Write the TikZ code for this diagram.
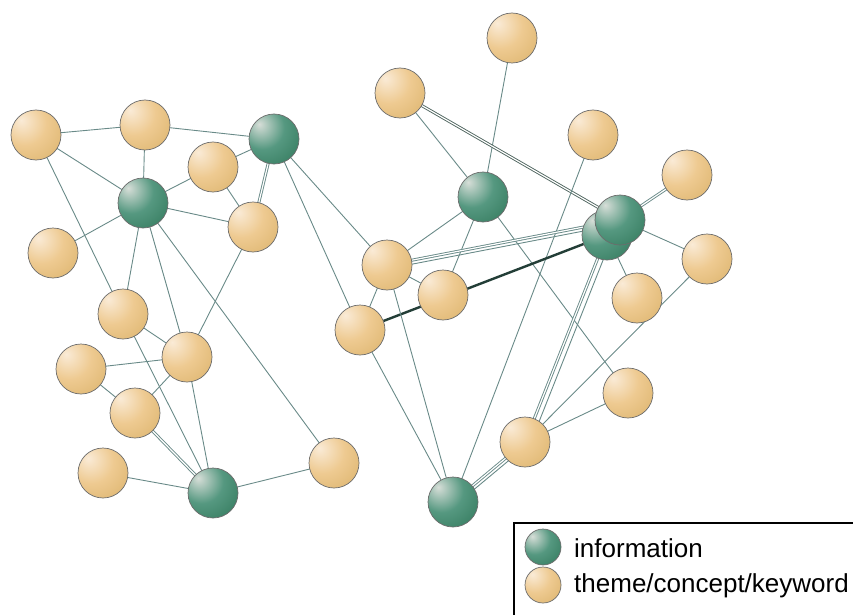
\documentclass[tikz,border=0pt]{standalone}
\usepackage{fontspec}
\setmainfont{Liberation Sans}
\usepackage{tikz}
\usetikzlibrary{backgrounds}
\definecolor{linec}{RGB}{105, 138, 136}
\definecolor{darkline}{RGB}{35, 62, 55}
\definecolor{tanhi}{RGB}{250, 235, 215}
\definecolor{themetan}{RGB}{238, 202, 145}
\definecolor{tanlow}{RGB}{208, 165, 85}
\definecolor{greenhi}{RGB}{215, 222, 216}
\definecolor{infogreen}{RGB}{85, 152, 128}
\definecolor{greenlow}{RGB}{28, 100, 68}

\pgfdeclareradialshading{tanball}{\pgfpoint{-15bp}{15bp}}{color(0bp)=(tanhi); color(22bp)=(themetan); color(62bp)=(tanlow); color(100bp)=(tanlow)}
\pgfdeclareradialshading{greenball}{\pgfpoint{-15bp}{15bp}}{color(0bp)=(greenhi); color(22bp)=(infogreen); color(62bp)=(greenlow); color(100bp)=(greenlow)}

\tikzset{
  ballnode/.style={circle, minimum size=50pt, inner sep=0pt, draw=gray!85!black, line width=0.7pt},
  info/.style={ballnode, shading=greenball},
  theme/.style={ballnode, shading=tanball},
  edge/.style={draw=linec, line width=0.9pt},
  twin/.style={edge, double=white, double distance=1.2pt},
  heavy/.style={draw=darkline, line width=2.4pt},
  legendtext/.style={anchor=west, inner sep=0pt, font=\fontsize{26}{28}\selectfont}
}

\begin{document}
\begin{tikzpicture}[x=1pt, y=-1pt]

  \useasboundingbox (0, 0) rectangle (853, 615);

  \node[theme] (k1) at (36, 135) {};
  \node[theme] (k2) at (145, 125) {};
  \node[info] (g1) at (274, 139) {};
  \node[theme] (k3) at (213, 167) {};
  \node[info] (g2) at (143, 203) {};
  \node[theme] (k4) at (253, 227) {};
  \node[theme] (k5) at (53, 253) {};
  \node[theme] (k6) at (123, 314) {};
  \node[theme] (k7) at (187, 357) {};
  \node[theme] (k8) at (81, 369) {};
  \node[theme] (k9) at (135, 413) {};
  \node[theme] (k10) at (103, 473) {};
  \node[info] (g3) at (213, 493) {};
  \node[theme] (k11) at (334, 463) {};

  \node[theme] (k12) at (512, 38) {};
  \node[theme] (k13) at (400, 93) {};
  \node[theme] (k14) at (593, 135) {};
  \node[info] (g4) at (483, 197) {};
  \node[theme] (k15) at (687, 175) {};
  \node[info] (g6) at (607, 235) {};
  \node[info] (g5) at (620, 220) {};
  \node[theme] (k16) at (387, 265) {};
  \node[theme] (k17) at (443, 295) {};
  \node[theme] (k18) at (360, 330) {};
  \node[theme] (k19) at (707, 259) {};
  \node[theme] (k20) at (637, 298) {};
  \node[theme] (k21) at (628, 393) {};
  \node[theme] (k22) at (525, 442) {};
  \node[info] (g7) at (453, 502) {};

  \begin{scope}[on background layer]
    \draw[edge] (k1.center) -- (k2.center) -- (g1.center);
    \draw[edge] (k1.center) -- (g2.center);
    \draw[edge] (k1.center) -- (k6.center);
    \foreach \b in {k2, k3, k4, k5, k6, k7, k11}
      \draw[edge] (g2.center) -- (\b.center);
    \draw[edge] (g1.center) -- (k3.center) -- (k4.center);
    \draw[twin] (g1.center) -- (k4.center);
    \draw[edge] (g1.center) -- (k16.center);
    \draw[edge] (g1.center) -- (k18.center);
    \draw[edge] (k4.center) -- (k7.center);
    \draw[edge] (k6.center) -- (k7.center);
    \draw[edge] (k6.center) -- (g3.center);
    \draw[edge] (k8.center) -- (k7.center) -- (k9.center) -- (k8.center);
    \draw[edge] (k7.center) -- (g3.center);
    \draw[twin] (k9.center) -- (g3.center);
    \draw[edge] (k10.center) -- (g3.center) -- (k11.center);

    \draw[edge] (k12.center) -- (g4.center);
    \draw[edge] (k13.center) -- (g4.center);
    \draw[twin, draw=darkline!80] (k13.center) -- (g5.center);
    \draw[edge] (k14.center) -- (g7.center);
    \foreach \b in {k16, k17, k21}
      \draw[edge] (g4.center) -- (\b.center);
    \draw[twin] (k15.center) -- (g5.center);
    \draw[edge] (g5.center) -- (k19.center);
    \draw[edge] (g6.center) -- (k20.center);
    \draw[twin] (k16.center) -- (g5.center);
    \draw[edge] ([yshift=-4]k16.center) -- ([yshift=-4]g5.center);
    \draw[heavy] (k18.center) -- (g6.center);
    \draw[edge] (k16.center) -- (k17.center);
    \draw[edge] (k16.center) -- (k18.center);
    \draw[edge] (k16.center) -- (g7.center);
    \draw[edge] (k18.center) -- (g7.center);
    \draw[edge] (k19.center) -- (k22.center);
    \draw[edge] (k22.center) -- (k21.center);
    \draw[twin] (g6.center) -- (k22.center);
    \draw[edge] ([xshift=6]g6.center) -- ([xshift=6]k22.center);
    \draw[twin] (k22.center) -- (g7.center);
    \draw[edge] ([yshift=-5]k22.center) -- ([yshift=-5]g7.center);
  \end{scope}

  \draw[line width=1.6pt] (514, 615) -- (514, 523) -- (853, 523);
  \node[info, minimum size=36pt] (li) at (543, 547) {};
  \node[theme, minimum size=36pt] (lt) at (543, 585) {};
  \node[legendtext] (lit) at (574, 548) {information};
  \node[legendtext] (ltt) at (574, 586) {theme/concept/keyword};

\end{tikzpicture}
\end{document}
